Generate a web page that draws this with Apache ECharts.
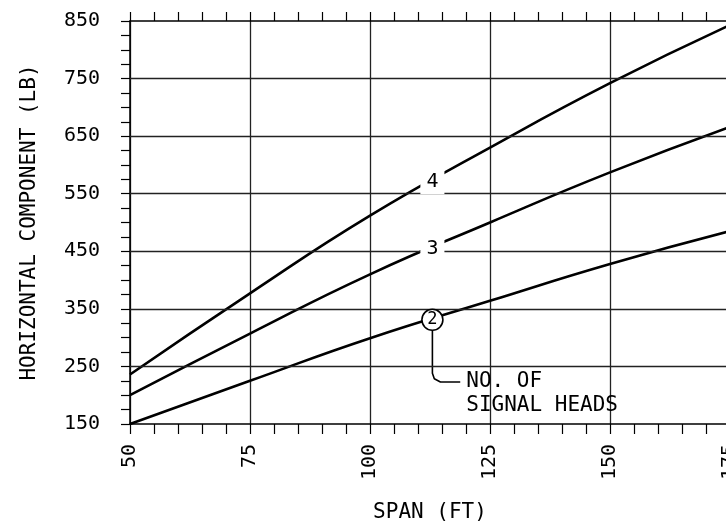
<!DOCTYPE html>
<html>
<head>
<meta charset="utf-8">
<script src="https://cdn.jsdelivr.net/npm/echarts@6/dist/echarts.min.js"></script>
<style>
html,body{margin:0;padding:0;background:#fff;}
#chart{width:726px;height:521px;}
</style>
</head>
<body>
<div id="chart"></div>
<script>
// ---- data ----
const spans  = [50, 75, 100, 125, 150, 175];
const heads4 = [236, 377, 512, 630, 742, 843];
const heads3 = [200, 307, 410, 500, 587, 666];
const heads2 = [150, 225, 299, 364, 428, 485];
const label4 = [[113,570]];
const label3 = [[113,455]];
const label2 = [[113,331]];
const leader = [[113,331],[113,238],[113.4,228.5],[114.67,223],[118.8,223]];
const leaderText = [[118.8,223]];
const gridY = [250,350,450,550,650,750];
const xMin = 50, xMax = 175, xStep = 25;
const yMin = 150, yMax = 850;

const FONT = 'DejaVu Sans Mono';
const chart = echarts.init(document.getElementById('chart'), null, {renderer:'canvas'});

function curve(vals){
  return {type:'line', data:spans.map((x,i)=>[x, vals[i]]), smooth:0.5, showSymbol:false, symbol:'none',
          lineStyle:{color:'#000', width:2.6}, z:3, silent:true, animation:false};
}
function textMark(data, txt){
  return {type:'scatter', data:data, symbolSize:1, itemStyle:{color:'#fff', opacity:1}, z:5, silent:true, animation:false,
          label:{show:true, position:'inside', formatter:txt, color:'#000', fontFamily:FONT, fontSize:20,
                 backgroundColor:'#fff', padding:[2,6]}};
}

chart.setOption({
  animation:false,
  backgroundColor:'#fff',
  grid:{left:130, top:21, width:600, height:403, containLabel:false, outerBoundsMode:'none'},
  xAxis:[{
    type:'value', min:xMin, max:xMax, interval:xStep, position:'bottom',
    axisLine:{show:true, onZero:false, lineStyle:{color:'#000', width:1.5}},
    axisTick:{show:true, length:10, lineStyle:{color:'#000', width:1.2}},
    minorTick:{show:true, splitNumber:5, length:10, lineStyle:{color:'#000', width:1.2}},
    splitLine:{show:true, lineStyle:{color:'#222', width:1.3}},
    axisLabel:{rotate:90, margin:20, color:'#000', fontFamily:FONT, fontSize:20},
    name:'SPAN (FT)', nameLocation:'middle', nameGap:78,
    nameTextStyle:{color:'#000', fontFamily:FONT, fontSize:21}
  },{
    type:'value', min:xMin, max:xMax, interval:xStep, position:'top',
    axisLine:{show:true, onZero:false, lineStyle:{color:'#000', width:1.5}},
    axisTick:{show:true, length:9, lineStyle:{color:'#000', width:1.2}},
    minorTick:{show:true, splitNumber:5, length:9, lineStyle:{color:'#000', width:1.2}},
    splitLine:{show:false}, axisLabel:{show:false}
  }],
  yAxis:{
    type:'value', min:yMin, max:yMax, interval:25,
    axisLine:{show:true, onZero:false, lineStyle:{color:'#000', width:1.5}},
    axisTick:{show:true, length:9, lineStyle:{color:'#000', width:1.2}},
    splitLine:{show:false},
    axisLabel:{margin:30, color:'#000', fontFamily:FONT, fontSize:20,
               formatter:function(v){ return ((v - yMin) % 100 === 0) ? String(v) : ''; }},
    name:'HORIZONTAL COMPONENT (LB)', nameLocation:'middle', nameGap:90,
    nameTextStyle:{color:'#000', fontFamily:FONT, fontSize:21}
  },
  series:[
    {type:'line', data:[], z:1, silent:true, animation:false,
     markLine:{silent:true, symbol:'none', animation:false, label:{show:false},
               lineStyle:{color:'#222', width:1.3, type:'solid'},
               data:gridY.map(v=>({yAxis:v}))}},
    curve(heads4), curve(heads3), curve(heads2),
    {type:'line', data:leader, smooth:false, showSymbol:false, symbol:'none',
     lineStyle:{color:'#000', width:1.6}, z:3, silent:true, animation:false},
    textMark(label4,'4'), textMark(label3,'3'),
    {type:'scatter', data:label2, symbol:'circle', symbolSize:21, z:6, silent:true, animation:false,
     itemStyle:{color:'#fff', borderColor:'#000', borderWidth:1.6, opacity:1},
     label:{show:true, position:'inside', formatter:'2', color:'#000', fontFamily:FONT, fontSize:17}},
    {type:'scatter', data:leaderText, symbolSize:0, itemStyle:{color:'#fff', opacity:1}, z:6, silent:true, animation:false,
     label:{show:true, position:'right', distance:6, offset:[0,12], align:'left',
            formatter:'NO. OF\nSIGNAL HEADS', lineHeight:24, color:'#000', fontFamily:FONT, fontSize:21}}
  ]
});
</script>
</body>
</html>
